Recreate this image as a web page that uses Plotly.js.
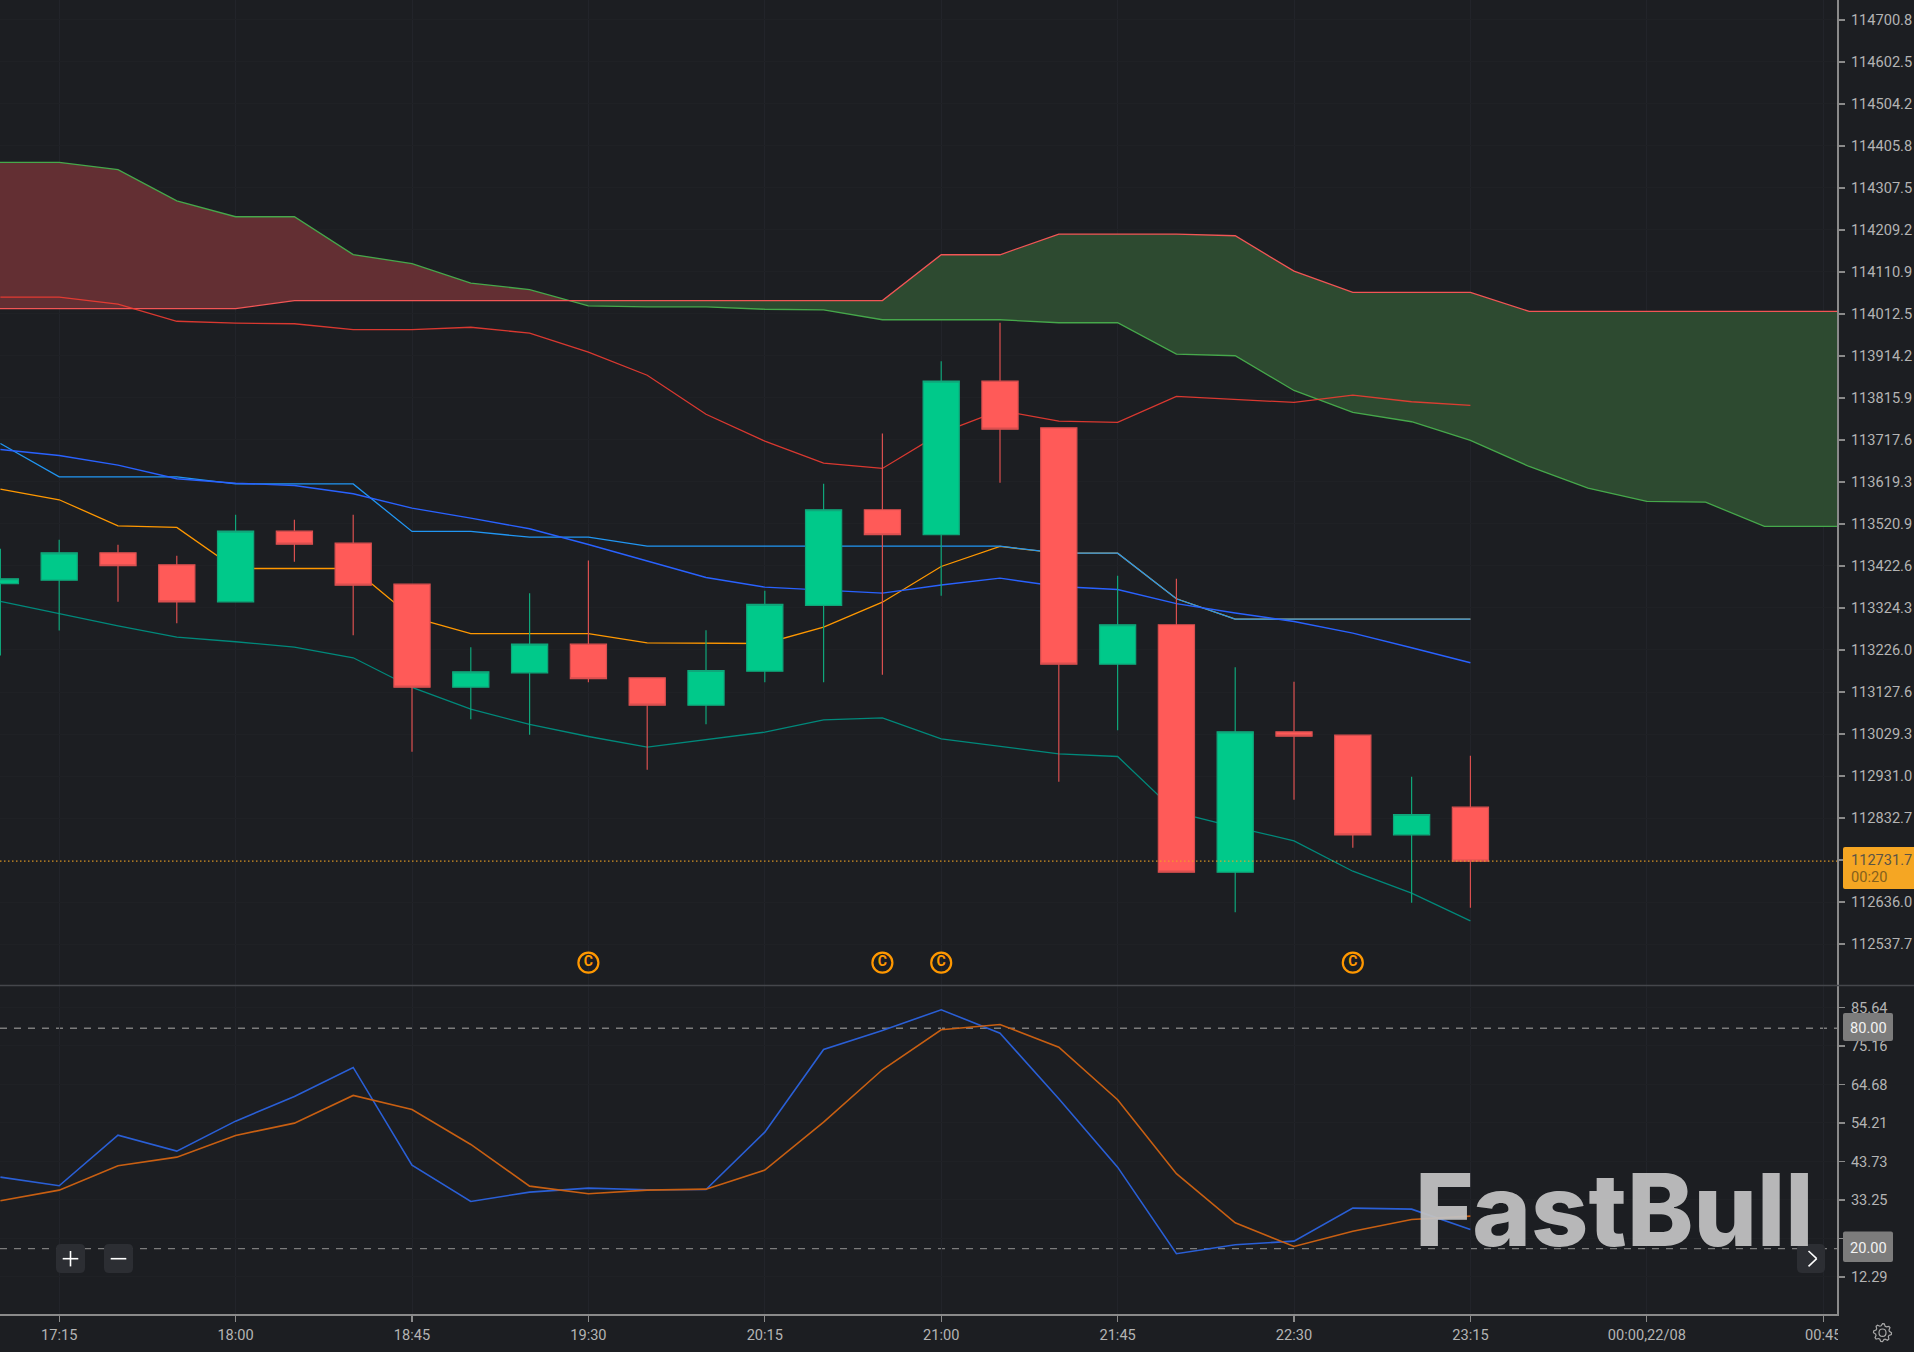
<!DOCTYPE html>
<html>
<head>
<meta charset="utf-8">
<script src="https://cdn.plot.ly/plotly-3.0.1.min.js"></script>
<style>html,body{margin:0;padding:0;background:#1c1e22;overflow:hidden}#chart{width:1914px;height:1352px}</style>
</head>
<body>
<div id="chart"></div>
<script>
var times = ["2025-08-21 16:45","2025-08-21 17:00","2025-08-21 17:15","2025-08-21 17:30","2025-08-21 17:45","2025-08-21 18:00","2025-08-21 18:15","2025-08-21 18:30","2025-08-21 18:45","2025-08-21 19:00","2025-08-21 19:15","2025-08-21 19:30","2025-08-21 19:45","2025-08-21 20:00","2025-08-21 20:15","2025-08-21 20:30","2025-08-21 20:45","2025-08-21 21:00","2025-08-21 21:15","2025-08-21 21:30","2025-08-21 21:45","2025-08-21 22:00","2025-08-21 22:15","2025-08-21 22:30","2025-08-21 22:45","2025-08-21 23:00","2025-08-21 23:15","2025-08-21 23:30","2025-08-21 23:45","2025-08-22 00:00","2025-08-22 00:15","2025-08-22 00:30","2025-08-22 00:45","2025-08-22 01:00"];
var opens = [113381.0,113389.4,113453.5,113425.4,113338.8,113504.1,113476.0,113380.0,113138.9,113172.6,113239.6,113160.9,113096.8,113176.4,113330.2,113554.2,113495.7,113855.2,113746.1,113192.7,113285.0,112705.8,113034.5,113026.5,112793.4,112858.0];
var closes = [113392.7,113453.5,113423.1,113338.8,113504.1,113473.6,113377.7,113138.9,113174.9,113239.6,113158.6,113096.8,113178.0,113332.5,113554.2,113495.7,113855.2,113742.9,113192.7,113285.0,112705.8,113034.5,113024.2,112793.4,112840.9,112731.7];
var highs = [113462.9,113484.0,113472.3,113446.4,113542.5,113530.8,113542.5,113380.0,113232.5,113359.0,113435.5,113160.9,113272.3,113364.6,113615.0,113732.8,113902.1,113992.0,113746.1,113399.7,113392.7,113185.8,113151.6,113026.5,112929.1,112978.3];
var lows = [113213.1,113271.6,113338.8,113288.7,113338.8,113432.4,113260.6,112987.7,113064.0,113027.5,113150.6,112945.5,113052.3,113150.6,113150.6,113167.9,113352.9,113617.4,112917.4,113038.2,112705.8,112612.2,112875.3,112763.0,112634.1,112622.5];
var baseBlue = [113695.3,113681.3,113658.6,113626.8,113616.4,113611.1,113591.6,113557.9,113534.5,113509.7,113472.9,113434.8,113395.7,113373.0,113365.3,113359.0,113378.1,113394.1,113374.6,113367.6,113334.4,113312.6,113292.7,113265.3,113231.1,113196.0];
var lightBlue = [113709.4,113631.4,113631.4,113631.4,113614.6,113614.6,113614.6,113503.4,113503.4,113490.1,113490.1,113469.0,113469.0,113469.0,113469.0,113469.0,113469.0,113469.0,113452.6,113452.6,113345.8,113298.1,113298.1,113298.1,113298.1,113298.1];
var orangeMid = [113602.4,113577.6,113516.7,113512.8,113416.7,113416.7,113416.7,113302.7,113264.1,113264.1,113264.1,113242.8,113242.8,113241.2,113279.3,113337.8,113421.4,113468.3,113452.6,113452.6,113345.8,113298.1,113298.1,113298.1,113298.1,113298.1];
var tealLow = [113339.5,113310.7,113282.6,113256.0,113245.2,113232.5,113207.7,113138.2,113087.4,113051.6,113023.5,112998.4,113015.8,113033.6,113062.6,113067.2,113018.1,113000.7,112983.0,112976.7,112845.6,112811.6,112779.3,112708.1,112656.7,112592.0];
var lagRed = [114052.1,114052.1,114035.7,113995.4,113991.2,113989.6,113975.8,113975.8,113981.4,113967.6,113923.1,113869.1,113777.7,113714.8,113663.5,113650.9,113734.0,113786.6,113761.6,113758.6,113819.4,113812.4,113805.4,113822.5,113807.0,113798.4];
var spanA = [114025.0,114025.0,114025.0,114025.0,114025.0,114025.0,114043.9,114043.9,114043.9,114043.9,114043.9,114043.9,114043.9,114043.9,114043.9,114043.9,114043.9,114151.1,114151.1,114199.4,114199.4,114199.4,114195.6,114112.7,114062.9,114062.9,114062.9,114018.4,114018.4,114018.4,114018.4,114018.4,114018.4,114018.4];
var spanB = [114367.4,114367.4,114367.4,114350.1,114277.1,114240.1,114240.1,114151.4,114130.1,114084.9,114069.4,114031.5,114029.2,114029.2,114023.5,114021.9,113999.0,113999.0,113999.0,113991.9,113991.9,113918.4,113914.7,113833.5,113782.0,113760.2,113716.4,113655.5,113604.7,113573.6,113572.0,113515.1,113515.1,113515.1];
var stochK = [39.45,37.11,50.88,46.53,54.69,61.42,69.31,42.72,32.84,35.37,36.46,36.02,36.10,51.70,74.21,79.38,85.01,78.64,60.79,42.17,18.60,21.05,22.03,31.01,30.74,25.22];
var stochD = [33.03,35.91,42.55,44.89,50.80,54.15,61.69,57.88,48.35,37.00,34.93,35.91,36.18,41.36,54.42,68.68,79.57,81.01,74.83,60.52,40.38,27.04,20.59,24.75,27.94,28.84];
var signalTimes = ["2025-08-21 19:30","2025-08-21 20:45","2025-08-21 21:00","2025-08-21 22:45"];
var signalPrices = [112494,112494,112494,112494];
var lastPrice = 112731.7;
var priceTicks = [114700.8,114602.5,114504.2,114405.8,114307.5,114209.2,114110.9,114012.5,113914.2,113815.9,113717.6,113619.3,113520.9,113422.6,113324.3,113226.0,113127.6,113029.3,112931.0,112832.7,112734.4,112636.0,112537.7];
var stochTicks = [85.64,75.16,64.68,54.21,43.73,33.25,22.77,12.29];
var stochLevels = [80,20];
var tickTimes = ["2025-08-21 17:15","2025-08-21 18:00","2025-08-21 18:45","2025-08-21 19:30","2025-08-21 20:15","2025-08-21 21:00","2025-08-21 21:45","2025-08-21 22:30","2025-08-21 23:15","2025-08-22 00:00","2025-08-22 00:45"];
var tickLabels = ["17:15","18:00","18:45","19:30","20:15","21:00","21:45","22:30","23:15","00:00,22/08","00:45"];

var W = 1914, H = 1352;
function px(x){return x/W;}
function py(y){return 1-y/H;}
var BG = '#1c1e22', FONT = 'Roboto, sans-serif';
var nCandle = opens.length;
var tc = times.slice(1, nCandle+1);

function ms(t){return Date.parse(t.replace(' ','T')+':00Z');}
function fmt(m){return new Date(m).toISOString().slice(0,19).replace('T',' ');}
/* split the cloud where the two spans cross */
var crossI = 0;
for (var i=0;i<spanA.length-1;i++){ if ((spanB[i]-spanA[i])*(spanB[i+1]-spanA[i+1])<0){crossI=i;break;} }
var d0 = spanB[crossI]-spanA[crossI], d1 = spanB[crossI+1]-spanA[crossI+1];
var frac = d0/(d0-d1);
var crossT = fmt(ms(times[crossI])+frac*(ms(times[crossI+1])-ms(times[crossI])));
var crossP = spanA[crossI]+frac*(spanA[crossI+1]-spanA[crossI]);

function fillPair(xs, lo, hi, col){
  return [
    {type:'scatter',mode:'lines',x:xs,y:lo,xaxis:'x',yaxis:'y',line:{width:0},showlegend:false,hoverinfo:'skip'},
    {type:'scatter',mode:'lines',x:xs,y:hi,xaxis:'x',yaxis:'y',line:{width:0},fill:'tonexty',fillcolor:col,showlegend:false,hoverinfo:'skip'}
  ];
}
function ln(y,col,w,x,ya){
  return {type:'scatter',mode:'lines',x:x||tc,y:y,xaxis:'x',yaxis:ya||'y',line:{color:col,width:w,shape:'linear'},showlegend:false,hoverinfo:'skip'};
}
var traces = [];
traces = traces.concat(fillPair(times.slice(0,crossI+1).concat([crossT]), spanA.slice(0,crossI+1).concat([crossP]), spanB.slice(0,crossI+1).concat([crossP]), '#632f33'));
traces = traces.concat(fillPair([crossT].concat(times.slice(crossI+1)), [crossP].concat(spanB.slice(crossI+1)), [crossP].concat(spanA.slice(crossI+1)), '#2d4a30'));
traces.push(ln(spanB,'#46a84b',1.3,times));
traces.push(ln(spanA,'#f25555',1.3,times));
traces.push(ln(lagRed,'rgba(244,60,50,0.88)',1.3));
traces.push(ln(tealLow,'#00897b',1.3));
traces.push(ln(orangeMid,'#ff9800',1.3));
traces.push(ln(lightBlue,'#2196f3',1.3));
traces.push(ln(baseBlue,'#2962ff',1.4));
traces.push({type:'candlestick',x:tc,open:opens,high:highs,low:lows,close:closes,xaxis:'x',yaxis:'y3',
  increasing:{line:{color:'#0fa67a',width:1.2},fillcolor:'#00c98a'},
  decreasing:{line:{color:'#d94f4f',width:1.2},fillcolor:'#ff5a58'},
  whiskerwidth:0,showlegend:false,hoverinfo:'skip'});
traces.push({type:'scatter',mode:'markers+text',x:signalTimes,y:signalPrices,xaxis:'x',yaxis:'y',
  marker:{symbol:'circle-open',size:20,color:'#ff9800',line:{color:'#ff9800',width:2.2}},
  text:signalTimes.map(function(){return 'C';}),textposition:'middle center',
  textfont:{family:FONT,size:14,color:'#ff9800',weight:700},showlegend:false,hoverinfo:'skip'});
traces.push(ln(stochK,'#2a5fd6',1.6,undefined,'y2'));
traces.push(ln(stochD,'#c85f12',1.6,undefined,'y2'));

function rrect(x0,y0,x1,y1,r){
  var X=px,Y=py;
  return 'M '+X(x0+r)+' '+Y(y0)+' L '+X(x1-r)+' '+Y(y0)+' Q '+X(x1)+' '+Y(y0)+' '+X(x1)+' '+Y(y0+r)+
    ' L '+X(x1)+' '+Y(y1-r)+' Q '+X(x1)+' '+Y(y1)+' '+X(x1-r)+' '+Y(y1)+
    ' L '+X(x0+r)+' '+Y(y1)+' Q '+X(x0)+' '+Y(y1)+' '+X(x0)+' '+Y(y1-r)+
    ' L '+X(x0)+' '+Y(y0+r)+' Q '+X(x0)+' '+Y(y0)+' '+X(x0+r)+' '+Y(y0)+' Z';
}
function chrome(path,fill,col,w){
  return {type:'path',xref:'paper',yref:'paper',path:path,fillcolor:fill||'rgba(0,0,0,0)',line:{color:col||'rgba(0,0,0,0)',width:w||0},layer:'above'};
}
function seg(x0,y0,x1,y1,col,w,dash){
  return {type:'line',xref:'paper',yref:'paper',x0:px(x0),x1:px(x1),y0:py(y0),y1:py(y1),line:{color:col,width:w,dash:dash||'solid'},layer:'above'};
}
function gear(cx,cy){
  var n=8,ro=9,ri=7,p='';
  for (var i=0;i<n*4;i++){
    var a=(i+0.5)/(n*4)*Math.PI*2 - Math.PI/2 - Math.PI/(n*4)*1;
    var r=(i%4<2)?ro:ri;
    p+=(i?' L ':'M ')+px(cx+r*Math.cos(a))+' '+py(cy+r*Math.sin(a));
  }
  return p+' Z';
}
var shapes = [
  {type:'line',xref:'paper',yref:'y',x0:0,x1:px(1837),y0:lastPrice,y1:lastPrice,line:{color:'rgba(245,166,35,0.85)',width:1.3,dash:'1.5px,2.5px'},layer:'above'},
  seg(0,985.5,W,985.5,'#45474c',1.5),
  chrome('M '+px(1838)+' '+py(1316)+' L '+px(W)+' '+py(1316)+' L '+px(W)+' '+py(H)+' L '+px(1838)+' '+py(H)+' Z',BG),
  chrome(rrect(1843,847,W+4,889,2),'#f5a623'),
  chrome(rrect(1843,1013,1893,1041,2),'#7c7c7c'),
  chrome(rrect(1843,1231.5,1893,1262,2),'#7c7c7c'),
  chrome(rrect(56,1244,85,1273,5),'#2c2e33'),
  chrome(rrect(104,1244,133,1273,5),'#2c2e33'),
  chrome(rrect(1797,1244,1825,1273,5),'#2c2e33'),
  seg(62.7,1258.7,78.3,1258.7,'#ffffff',1.6),
  seg(70.5,1251,70.5,1266.4,'#ffffff',1.6),
  seg(110.7,1258.7,126.3,1258.7,'#ffffff',1.6),
  seg(1808.5,1251,1816.7,1258.7,'#ffffff',1.6),
  seg(1816.7,1258.7,1808.5,1266.4,'#ffffff',1.6),
  chrome(gear(1882.5,1332.7),null,'#a8a8a8',1.2),
  chrome('M '+px(1879)+' '+py(1332.7)+' Q '+px(1879)+' '+py(1329)+' '+px(1882.5)+' '+py(1329)+' Q '+px(1886)+' '+py(1329)+' '+px(1886)+' '+py(1332.7)+' Q '+px(1886)+' '+py(1336.4)+' '+px(1882.5)+' '+py(1336.4)+' Q '+px(1879)+' '+py(1336.4)+' '+px(1879)+' '+py(1332.7)+' Z',null,'#a8a8a8',1.2)
];
stochLevels.forEach(function(v){
  shapes.unshift({type:'line',xref:'paper',yref:'y2',x0:0,x1:px(1837),y0:v,y1:v,line:{color:'#7c7c7c',width:1.4,dash:'7px,7px'},layer:'below'});
});
function note(x,y,text,col,size,anchor,weight,fam){
  return {xref:'paper',yref:'paper',x:px(x),y:py(y),text:text,showarrow:false,xanchor:anchor||'left',yanchor:'middle',
    font:{family:fam||FONT,size:size,color:col,weight:weight||400},borderpad:0,captureevents:false};
}
var annotations = [
  note(1849.5,859.5,lastPrice.toFixed(1),'#5b5445',14.6),
  note(1849.5,877,'00:20','#85601c',14.6),
  note(1868,1027.5,stochLevels[0].toFixed(2),'#f2f2f2',14.6,'center'),
  note(1868,1248,stochLevels[1].toFixed(2),'#f2f2f2',14.6,'center'),
  note(1413.5,1209,'FastBull','rgba(193,193,193,0.94)',100,'left',800,'Inter, sans-serif')
];
var axFont = {family:FONT,size:14.6,color:'#b4b4b4'};
var rangeMain=[112441.8,114747.4];
var layout = {
  width:W,height:H,autosize:false,margin:{l:0,r:0,t:0,b:0,pad:0},
  paper_bgcolor:BG,plot_bgcolor:BG,showlegend:false,hovermode:false,dragmode:false,
  boxmode:'group',boxgap:0.385,boxgroupgap:0,
  xaxis:{type:'date',domain:[0,px(1837)],anchor:'y2',range:['2025-08-21 16:59:54','2025-08-22 00:48:31'],
    tickmode:'array',tickvals:tickTimes,ticktext:tickLabels,ticks:'outside',ticklen:6,tickwidth:1.3,tickcolor:'#8a8a8a',
    showline:true,linecolor:'#8a8a8a',linewidth:2,showgrid:true,gridcolor:'#22242a',gridwidth:1,zeroline:false,
    tickfont:axFont,tickangle:0,rangeslider:{visible:false},fixedrange:true,ticklabeloverflow:'allow'},
  yaxis:{domain:[py(985),1],anchor:'x',side:'right',range:rangeMain,tickmode:'array',tickvals:priceTicks,tickformat:'.1f',
    ticks:'outside',ticklen:6,tickwidth:1.3,tickcolor:'#8a8a8a',showline:true,linecolor:'#8a8a8a',linewidth:2,
    showgrid:true,gridcolor:'#1f2125',gridwidth:1,zeroline:false,tickfont:axFont,fixedrange:true,ticklabelstandoff:3},
  yaxis2:{domain:[py(1314),py(986)],anchor:'x',side:'right',range:[2.2,91.48],tickmode:'array',tickvals:stochTicks,tickformat:'.2f',
    ticks:'outside',ticklen:6,tickwidth:1.3,tickcolor:'#8a8a8a',showline:true,linecolor:'#8a8a8a',linewidth:2,
    showgrid:true,gridcolor:'#1f2125',gridwidth:1,zeroline:false,tickfont:axFont,fixedrange:true,ticklabelstandoff:3},
  yaxis3:{overlaying:'y',anchor:'x',side:'right',range:rangeMain,visible:false,fixedrange:true,showgrid:false,zeroline:false},
  shapes:shapes,annotations:annotations
};
Plotly.newPlot('chart',traces,layout,{staticPlot:true,displayModeBar:false,responsive:false});
</script>
</body>
</html>
